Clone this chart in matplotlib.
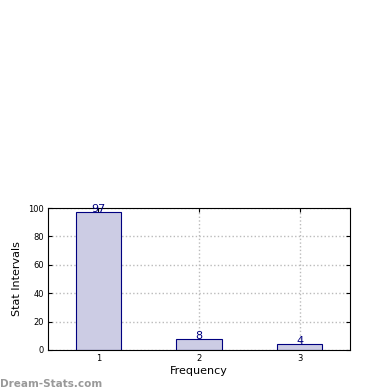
import matplotlib
matplotlib.use('Agg')
import matplotlib.pyplot as plt

categories = [1, 2, 3]
counts = [97, 8, 4]
yticks = [0, 20, 40, 60, 80, 100]

fig = plt.figure(figsize=(3.9, 3.9), dpi=100)
ax = fig.add_axes([0.123, 0.1026, 0.774, 0.364])

ax.bar(categories, counts, width=0.45, color='#cccce4', edgecolor='#000080', linewidth=0.8, zorder=2)
for x, v in zip(categories, counts):
    ax.annotate(str(v), (x, v), xytext=(0, -1.5), textcoords='offset points',
                ha='center', va='bottom', color='#000080', fontsize=8, zorder=3)

ax.set_xlim(0.5, 3.5)
ax.set_ylim(0, 100)
ax.set_xticks(categories)
ax.set_yticks(yticks)
ax.tick_params(labelsize=6, direction='in', length=3, top=True, right=True, pad=3)
ax.grid(True, linestyle=':', color='#bbbbbb', linewidth=1, zorder=0)
ax.set_axisbelow(True)
ax.set_xlabel('Frequency', fontsize=8, labelpad=2)
ax.set_ylabel('Stat Intervals', fontsize=8)

fig.text(0.0, 0.008, 'Dream-Stats.com', color='#999999', fontsize=7.5, fontweight='bold')

fig.savefig('out.png', dpi=100)
